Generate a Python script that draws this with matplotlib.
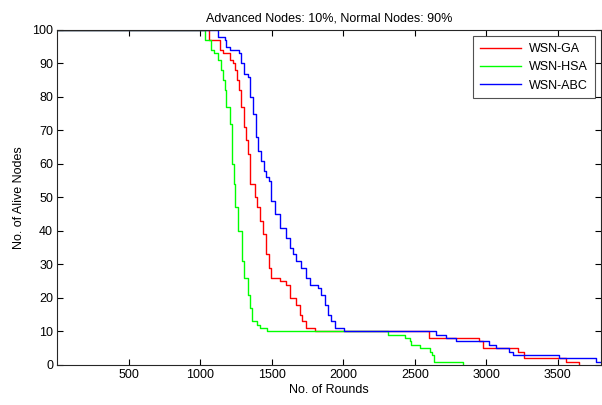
import numpy as np
import matplotlib
matplotlib.use('Agg')
import matplotlib.pyplot as plt

plt.rcParams['font.family'] = ['Liberation Sans', 'DejaVu Sans']

# Rounds at which the alive-node count changes, and the count after that round
ga_rounds = [0, 1062, 1141, 1160, 1206, 1229, 1241, 1257, 1271, 1288, 1304, 1322,
             1334, 1350, 1381, 1397, 1415, 1439, 1457, 1480, 1497, 1555, 1602,
             1625, 1672, 1695, 1714, 1741, 1800, 2598, 2952, 2975, 3220, 3266,
             3557, 3650]
ga_alive = [100, 97, 94, 93, 91, 90, 88, 85, 82, 77, 71, 67,
            63, 54, 50, 47, 43, 39, 33, 29, 26, 25, 24,
            20, 18, 15, 13, 11, 10, 8, 7, 5, 4, 2,
            1, 0]

hsa_rounds = [0, 1031, 1078, 1097, 1125, 1148, 1160, 1171, 1183, 1211, 1225, 1234,
              1246, 1264, 1292, 1304, 1334, 1350, 1364, 1397, 1415, 1467, 2312,
              2428, 2463, 2475, 2533, 2603, 2620, 2637, 2836]
hsa_alive = [100, 97, 94, 93, 91, 88, 85, 82, 77, 72, 60, 54,
             47, 40, 31, 26, 21, 17, 13, 12, 11, 10, 9,
             8, 7, 6, 5, 4, 3, 1, 0]

abc_rounds = [0, 1124, 1171, 1183, 1206, 1271, 1288, 1304, 1334, 1346, 1369, 1392,
              1404, 1427, 1443, 1457, 1480, 1497, 1520, 1555, 1597, 1625, 1648,
              1672, 1706, 1741, 1764, 1822, 1846, 1869, 1892, 1915, 1939, 2008,
              2649, 2719, 2789, 3022, 3068, 3161, 3184, 3510, 3767]
abc_alive = [100, 98, 97, 95, 94, 93, 90, 87, 86, 80, 75, 68,
             64, 61, 58, 56, 55, 49, 45, 41, 38, 35, 33,
             31, 29, 26, 24, 23, 21, 18, 15, 13, 11, 10,
             9, 8, 7, 6, 5, 4, 3, 2, 1]

x_ticks = [500, 1000, 1500, 2000, 2500, 3000, 3500]
y_ticks = list(range(0, 101, 10))

fig = plt.figure(figsize=(6.02, 4.05), dpi=100)
ax = fig.add_axes([0.095, 0.099, 0.903, 0.827])

ax.plot(ga_rounds, ga_alive, color='#ff0000', lw=1, drawstyle='steps-post', label='WSN-GA')
ax.plot(hsa_rounds, hsa_alive, color='#00ff00', lw=1, drawstyle='steps-post', label='WSN-HSA')
ax.plot(abc_rounds + [3800], abc_alive + [1], color='#0000ff', lw=1,
        drawstyle='steps-post', label='WSN-ABC')

ax.set_xlim(0, 3800)
ax.set_ylim(0, 100)
ax.set_xticks(x_ticks)
ax.set_yticks(y_ticks)
ax.tick_params(direction='in', length=4, width=0.8, top=True, right=True,
               labelsize=9, pad=3)
for sp in ax.spines.values():
    sp.set_linewidth(0.8)
    sp.set_color('#262626')

ax.set_title('Advanced Nodes: 10%, Normal Nodes: 90%', fontsize=9, pad=6)
ax.set_xlabel('No. of Rounds', fontsize=9, labelpad=2)
ax.set_ylabel('No. of Alive Nodes', fontsize=9, labelpad=5)

leg = ax.legend(loc='upper right', fontsize=9, frameon=True, fancybox=False,
                edgecolor='#262626', handlelength=3.3, handletextpad=0.6,
                borderaxespad=0.5, labelspacing=0.5, borderpad=0.55)
leg.get_frame().set_linewidth(0.8)

fig.savefig('out.png', dpi=100)
